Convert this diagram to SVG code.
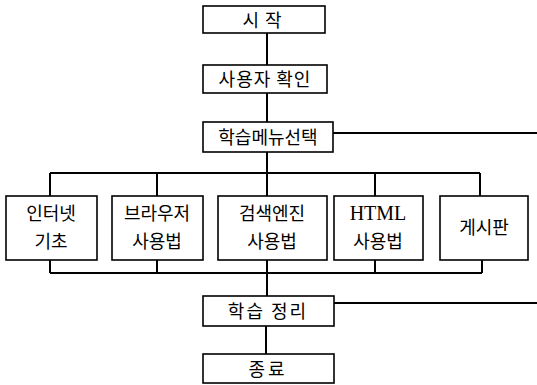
<svg xmlns="http://www.w3.org/2000/svg" width="537" height="385" viewBox="0 0 537 385">
<style>
.box{fill:#fff;stroke:#000;stroke-width:1.6}
.ln{fill:none;stroke:#000;stroke-width:2}
text{font-family:"Noto Sans CJK KR","Noto Sans",sans-serif;font-size:18px;fill:#000;text-anchor:middle}
.en{font-family:"Liberation Serif",serif;font-size:20px}
</style>
<rect width="537" height="385" fill="#fff"/>
<g id="connectors">
<path class="ln" d="M267 33V65M267 93V122M333 133H537M267 152V173M50 173H480M50 173V196M157 173V196M267 173V196M375 173V196M480 173V196"/>
<path class="ln" d="M50 260V273M157 260V273M267 260V273M375 260V273M482 260V273M50 273H482M267 273V296M334 303H537M266 326V354"/>
</g>
<g id="n_start"><rect class="box" x="203" y="6" width="122" height="27"/><text x="265" y="27" letter-spacing="6">시작</text></g>
<g id="n_user"><rect class="box" x="203" y="65" width="124" height="28"/><text x="265" y="86" letter-spacing="1">사용자 확인</text></g>
<g id="n_menu"><rect class="box" x="203" y="122" width="130" height="30"/><text x="268" y="144">학습메뉴선택</text></g>
<g id="n_b1"><rect class="box" x="6" y="196" width="91" height="64"/><text x="51" y="220">인터넷</text><text x="51" y="248">기초</text></g>
<g id="n_b2"><rect class="box" x="112" y="196" width="91" height="64"/><text x="157" y="220">브라우저</text><text x="157" y="248">사용법</text></g>
<g id="n_b3"><rect class="box" x="218" y="196" width="109" height="64"/><text x="272" y="220">검색엔진</text><text x="272" y="248">사용법</text></g>
<g id="n_b4"><rect class="box" x="334" y="196" width="89" height="64"/><text class="en" x="378" y="220">HTML</text><text x="378" y="248">사용법</text></g>
<g id="n_b5"><rect class="box" x="440" y="196" width="88" height="64"/><text x="484" y="234">게시판</text></g>
<g id="n_sum"><rect class="box" x="203" y="296" width="131" height="30"/><text x="268" y="318" letter-spacing="2">학습 정리</text></g>
<g id="n_end"><rect class="box" x="203" y="354" width="131" height="29"/><text x="268" y="376" letter-spacing="3">종료</text></g>
</svg>
